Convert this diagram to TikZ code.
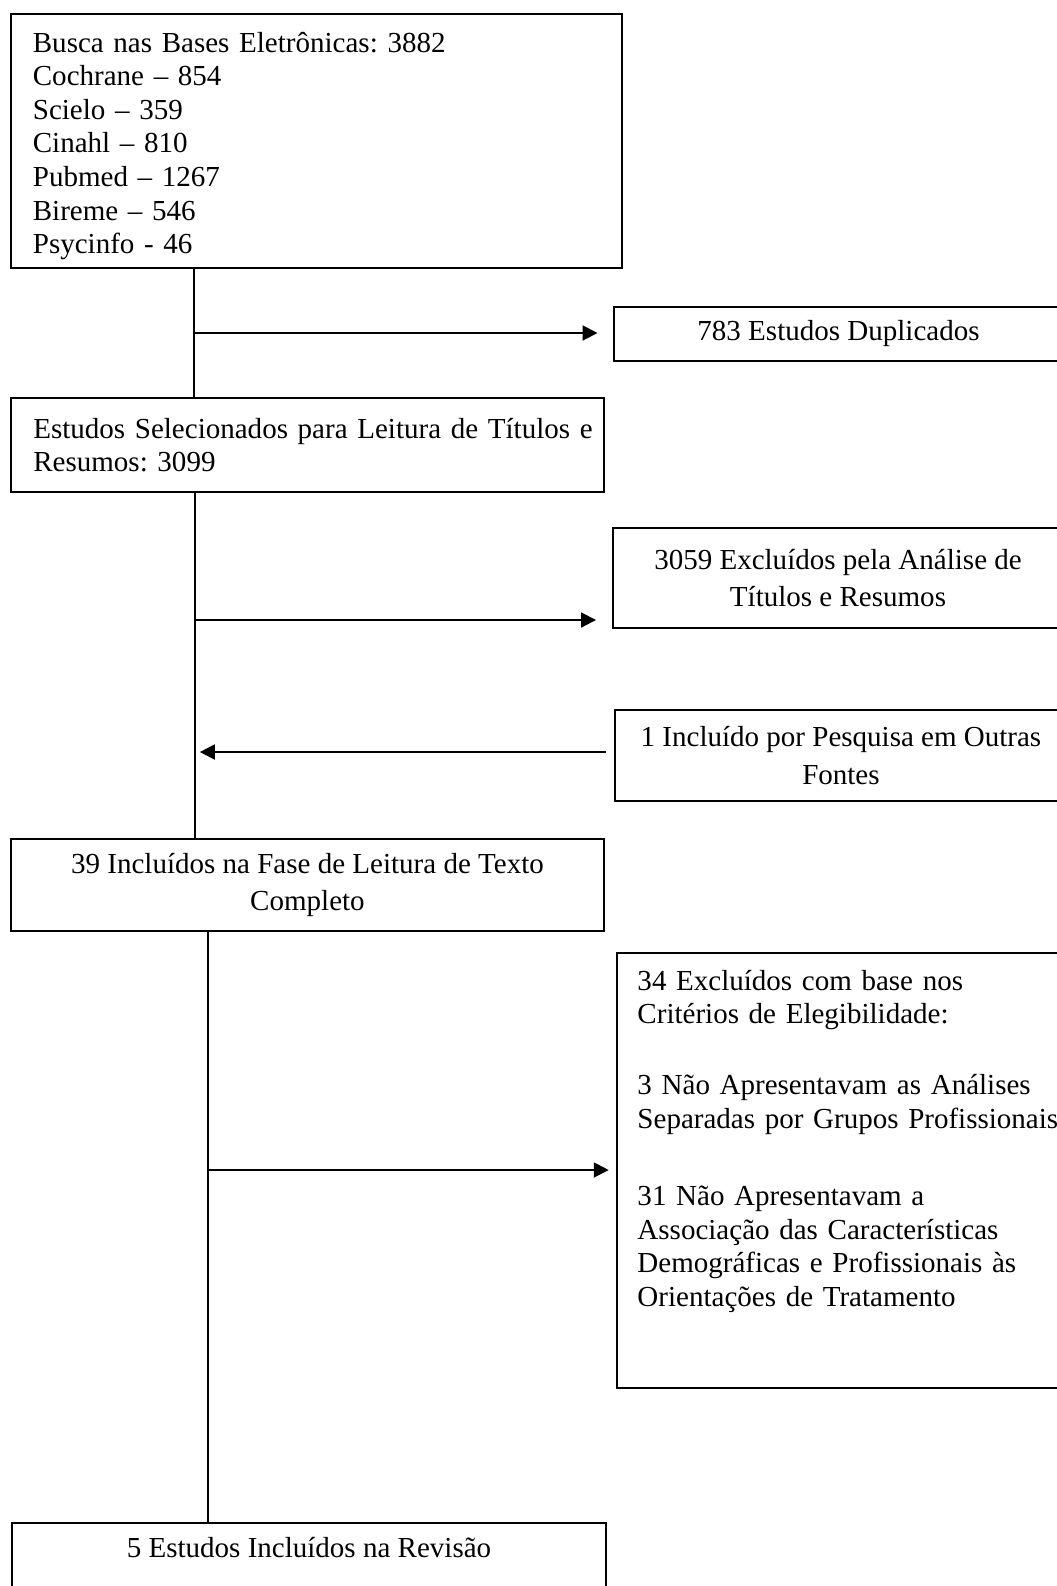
\documentclass[tikz,border=0pt]{standalone}
\usepackage{fontspec}
\setmainfont{Liberation Serif}
\usetikzlibrary{arrows.meta}

\begin{document}
\begin{tikzpicture}[x=0.4135pt, y=-0.4135pt,
    font=\fontsize{12}{13.9}\selectfont\frenchspacing,
    box/.style={draw, line width=0.8pt, inner sep=0pt},
    flow/.style={line width=0.8pt, -{Triangle[length=6.2pt,width=6.2pt]}}]
    \useasboundingbox (0,0) rectangle (1057,1586);
    % left column
    \node[box, anchor=north west, minimum width=252.6pt, minimum height=105pt] (busca)
        at (10,13) {};
    \node[anchor=base west, inner sep=0pt, text width=230pt, align=left] (buscatext)
        at (32.4,52)
        {Busca nas Bases Eletrônicas: 3882\\ Cochrane -- 854\\ Scielo -- 359\\
         Cinahl -- 810\\ Pubmed -- 1267\\ Bireme -- 546\\ Psycinfo - 46};
    \node[box, anchor=north west, minimum width=245.2pt, minimum height=38.9pt,
        text width=226.7pt, align=left] (sel) at (10,397)
        {\mbox{Estudos Selecionados para Leitura de Títulos e}\\ Resumos: 3099};
    \node[box, anchor=north west, minimum width=245.2pt, minimum height=38pt,
        align=center] (fase) at (10,838)
        {39 Incluídos na Fase de Leitura de Texto\\[1.2pt] Completo};
    \node[box, anchor=north, minimum width=245.6pt, text height=9pt, text depth=40pt,
        inner ysep=5.2pt] (final) at (309,1522) {5 Estudos Incluídos na Revisão};
    % right column
    \node[box, anchor=north west, minimum width=185.7pt, minimum height=22.3pt] (dup)
        at (613,306) {783 Estudos Duplicados};
    \node[box, anchor=north west, minimum width=186.1pt, minimum height=41.35pt,
        align=center] (exc) at (612,527)
        {3059 Excluídos pela Análise de\\[1.7pt] Títulos e Resumos};
    \node[box, anchor=north west, minimum width=186.9pt, minimum height=37.6pt,
        align=center] (incl) at (614,709) {1 Incluído por Pesquisa em Outras\\[2pt] Fontes};
    \node[box, anchor=north west, minimum width=184.4pt, minimum height=179.9pt] (crit)
        at (616,952) {};
    \node[anchor=base west, inner sep=0pt, text width=180pt, align=left] (crittext)
        at (637,990)
        {34 Excluídos com base nos\\ Critérios de Elegibilidade:\\[15.5pt]
         3 Não Apresentavam as Análises\\ Separadas por Grupos Profissionais\\[18pt]
         31 Não Apresentavam a\\ Associação das Características\\
         Demográficas e Profissionais às\\ Orientações de Tratamento};
    % connectors
    \coordinate (t1) at (194,333);
    \coordinate (t2) at (195,620);
    \coordinate (t3) at (195,752);
    \coordinate (t4) at (208,1170);
    \draw[line width=0.8pt] (busca.south -| t1) -- (sel.north -| t1);
    \draw[line width=0.8pt] (sel.south -| t2) -- (fase.north -| t2);
    \draw[line width=0.8pt] (fase.south -| t4) -- (final.north -| t4);
    \draw[flow, shorten >=6.4pt] (t1) -- (t1 -| dup.west);
    \draw[flow, shorten >=6.6pt] (t2) -- (t2 -| exc.west);
    \draw[flow, shorten <=3.3pt, shorten >=2pt] (t3 -| incl.west) -- (t3);
    \draw[flow, shorten >=3pt] (t4) -- (t4 -| crit.west);
\end{tikzpicture}
\end{document}
